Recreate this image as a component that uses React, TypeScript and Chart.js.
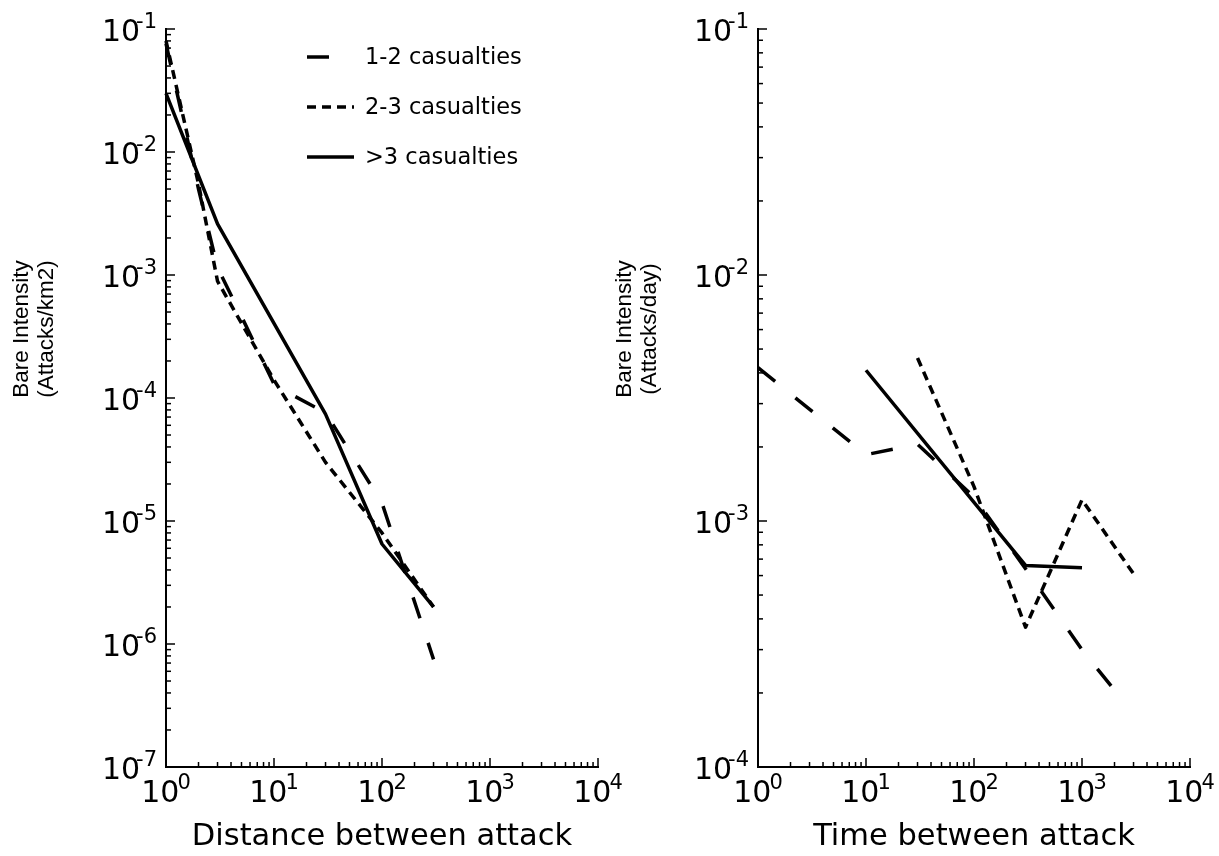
import React, { useEffect, useRef } from "react";
import { Chart, registerables } from "chart.js";
Chart.register(...registerables);

// ---------- data ----------
const seriesLabels = ["1-2 casualties", "2-3 casualties", ">3 casualties"];

const distX12 = [1, 2, 3, 5, 10, 15, 30, 100, 300];
const distY12 = [0.076, 5e-3, 1.15e-3, 4.6e-4, 1.3e-4, 1.05e-4, 7.6e-5, 1.4e-5, 7.5e-7];
const distX23 = [1, 2, 3, 10, 30, 100, 300];
const distY23 = [0.08, 5.5e-3, 8.9e-4, 1.4e-4, 3e-5, 8e-6, 2e-6];
const distXgt3 = [1, 3, 30, 100, 300];
const distYgt3 = [0.03, 2.6e-3, 7.4e-5, 6.5e-6, 2e-6];

const timeX12 = [1, 10, 30, 100, 300, 1000, 2300];
const timeY12 = [4.2e-3, 1.86e-3, 2.05e-3, 1.25e-3, 6.4e-4, 3e-4, 1.9e-4];
const timeX23 = [30, 100, 300, 1000, 3000];
const timeY23 = [4.6e-3, 1.38e-3, 3.7e-4, 1.22e-3, 6.1e-4];
const timeXgt3 = [10, 300, 1000];
const timeYgt3 = [4.1e-3, 6.6e-4, 6.45e-4];

const xTickExps = [0, 1, 2, 3, 4];
const distYTickExps = [-7, -6, -5, -4, -3, -2, -1];
const timeYTickExps = [-4, -3, -2, -1];

const distYLabel = ["Bare Intensity", "(Attacks/km2)"];
const timeYLabel = ["Bare Intensity", "(Attacks/day)"];
const distXLabel = "Distance between attack";
const timeXLabel = "Time between attack";

// ---------- styles ----------
const DASHES: number[][] = [[22, 26], [9, 6], []];
const LINE_W = 3.5;
const TICK_FONT = 30;
const SUP_FONT = 21;
const SUP_RAISE = 13;
const XLABEL_FONT = 30.5;
const YLABEL_FONT = 22.5;
const LEGEND_FONT = 22.5;

function drawPow(ctx: CanvasRenderingContext2D, exp: number, x: number, y: number, align: "center" | "right") {
  const base = "10";
  const sup = exp < 0 ? "-" + Math.abs(exp) : String(exp);
  const overlap = exp < 0 ? 4 : 2;
  ctx.font = `${TICK_FONT}px "DejaVu Sans"`;
  const wb = ctx.measureText(base).width;
  ctx.font = `${SUP_FONT}px "DejaVu Sans"`;
  const ws = ctx.measureText(sup).width;
  const total = wb - overlap + ws;
  const x0 = align === "center" ? x - total / 2 : x - total;
  ctx.textAlign = "left";
  ctx.textBaseline = "alphabetic";
  ctx.font = `${TICK_FONT}px "DejaVu Sans"`;
  ctx.fillText(base, x0, y);
  ctx.font = `${SUP_FONT}px "DejaVu Sans"`;
  ctx.fillText(sup, x0 + wb - overlap, y - SUP_RAISE);
}

const mplPlugin = {
  id: "mpl",
  afterDraw(chart: any, _args: any, opts: any) {
    const { ctx, chartArea: a, scales } = chart;
    const sx = scales.x;
    const sy = scales.y;
    ctx.save();
    ctx.strokeStyle = "#000";
    ctx.fillStyle = "#000";
    // spines
    ctx.lineWidth = 2;
    ctx.lineCap = "square";
    ctx.beginPath();
    ctx.moveTo(a.left, a.top);
    ctx.lineTo(a.left, a.bottom);
    ctx.lineTo(a.right, a.bottom);
    ctx.stroke();
    // ticks
    ctx.lineWidth = 1.5;
    ctx.lineCap = "butt";
    const xe: number[] = opts.xExps;
    for (let i = 0; i < xe.length; i++) {
      const e = xe[i];
      const px = sx.getPixelForValue(Math.pow(10, e));
      ctx.beginPath();
      ctx.moveTo(px, a.bottom);
      ctx.lineTo(px, a.bottom - 9);
      ctx.stroke();
      if (i < xe.length - 1) {
        for (let m = 2; m <= 9; m++) {
          const mx = sx.getPixelForValue(m * Math.pow(10, e));
          ctx.beginPath();
          ctx.moveTo(mx, a.bottom);
          ctx.lineTo(mx, a.bottom - 5);
          ctx.stroke();
        }
      }
    }
    const ye: number[] = opts.yExps;
    for (let i = 0; i < ye.length; i++) {
      const e = ye[i];
      const py = sy.getPixelForValue(Math.pow(10, e));
      ctx.beginPath();
      ctx.moveTo(a.left, py);
      ctx.lineTo(a.left + 9, py);
      ctx.stroke();
      if (i < ye.length - 1) {
        for (let m = 2; m <= 9; m++) {
          const my = sy.getPixelForValue(m * Math.pow(10, e));
          ctx.beginPath();
          ctx.moveTo(a.left, my);
          ctx.lineTo(a.left + 5, my);
          ctx.stroke();
        }
      }
    }
    // tick labels
    for (const e of xe) {
      drawPow(ctx, e, sx.getPixelForValue(Math.pow(10, e)), a.bottom + 35, "center");
    }
    for (const e of ye) {
      drawPow(ctx, e, a.left - 9, sy.getPixelForValue(Math.pow(10, e)) + 12, "right");
    }
    // x label
    ctx.font = `${XLABEL_FONT}px "DejaVu Sans"`;
    ctx.textAlign = "center";
    ctx.textBaseline = "alphabetic";
    ctx.fillText(opts.xlabel, (a.left + a.right) / 2, a.bottom + 78);
    // y label (two lines, rotated)
    ctx.font = `${YLABEL_FONT}px "Liberation Sans"`;
    ctx.textBaseline = "middle";
    const lines: string[] = opts.ylabel;
    for (let i = 0; i < lines.length; i++) {
      ctx.save();
      ctx.translate(opts.ylabelX[i], opts.ylabelY);
      ctx.rotate(-Math.PI / 2);
      ctx.textAlign = "center";
      ctx.fillText(lines[i], 0, 0);
      ctx.restore();
    }
    // legend
    if (opts.legend) {
      const rows = [57, 107, 157];
      ctx.font = `${LEGEND_FONT}px "DejaVu Sans"`;
      ctx.textAlign = "left";
      ctx.textBaseline = "middle";
      for (let i = 0; i < seriesLabels.length; i++) {
        ctx.lineWidth = LINE_W;
        ctx.setLineDash(DASHES[i]);
        ctx.beginPath();
        ctx.moveTo(307, rows[i]);
        ctx.lineTo(354, rows[i]);
        ctx.stroke();
        ctx.setLineDash([]);
        ctx.fillText(seriesLabels[i], 365, rows[i] + 1);
      }
    }
    ctx.restore();
  },
};

function makeDatasets(xs: number[][], ys: number[][]) {
  return xs.map((xarr, k) => ({
    label: seriesLabels[k],
    data: xarr.map((x, i) => ({ x, y: ys[k][i] })),
    borderColor: "#000",
    backgroundColor: "#000",
    borderWidth: LINE_W,
    borderDash: DASHES[k],
    borderCapStyle: "butt",
    borderJoinStyle: "round",
    pointRadius: 0,
    fill: false,
    tension: 0,
    clip: false,
  }));
}

function Panel(props: {
  left: number; width: number; xs: number[][]; ys: number[][];
  yMin: number; yMax: number; yExps: number[]; ylabel: string[]; xlabel: string;
  pad: { left: number; right: number; top: number; bottom: number };
  ylabelX: number[]; ylabelY: number; legend: boolean;
}) {
  const ref = useRef<HTMLCanvasElement | null>(null);
  useEffect(() => {
    if (!ref.current) return;
    const chart = new Chart(ref.current, {
      type: "line",
      data: { datasets: makeDatasets(props.xs, props.ys) as any },
      options: {
        animation: false,
        responsive: false,
        maintainAspectRatio: false,
        layout: { padding: props.pad },
        scales: {
          x: { type: "logarithmic", min: 1, max: 1e4, display: false },
          y: { type: "logarithmic", min: props.yMin, max: props.yMax, display: false },
        },
        plugins: {
          legend: { display: false },
          tooltip: { enabled: false },
          mpl: {
            xExps: xTickExps, yExps: props.yExps, xlabel: props.xlabel,
            ylabel: props.ylabel, ylabelX: props.ylabelX, ylabelY: props.ylabelY,
            legend: props.legend,
          },
        } as any,
      },
      plugins: [mplPlugin],
    } as any);
    return () => chart.destroy();
  }, []);
  return (
    <canvas
      ref={ref}
      width={props.width}
      height={856}
      style={{ position: "absolute", left: props.left, top: 0, width: props.width, height: 856 }}
    />
  );
}

export default function App() {
  return (
    <div style={{ position: "fixed", left: 0, top: 0, width: 1219, height: 856, background: "#fff", overflow: "hidden" }}>
      <Panel
        left={0} width={650}
        xs={[distX12, distX23, distXgt3]} ys={[distY12, distY23, distYgt3]}
        yMin={1e-7} yMax={1e-1} yExps={distYTickExps}
        ylabel={distYLabel} xlabel={distXLabel}
        pad={{ left: 166, right: 52, top: 29, bottom: 89 }}
        ylabelX={[22, 47]} ylabelY={329} legend={true}
      />
      <Panel
        left={600} width={619}
        xs={[timeX12, timeX23, timeXgt3]} ys={[timeY12, timeY23, timeYgt3]}
        yMin={1e-4} yMax={1e-1} yExps={timeYTickExps}
        ylabel={timeYLabel} xlabel={timeXLabel}
        pad={{ left: 158, right: 29, top: 29, bottom: 89 }}
        ylabelX={[25, 50]} ylabelY={329} legend={false}
      />
    </div>
  );
}
